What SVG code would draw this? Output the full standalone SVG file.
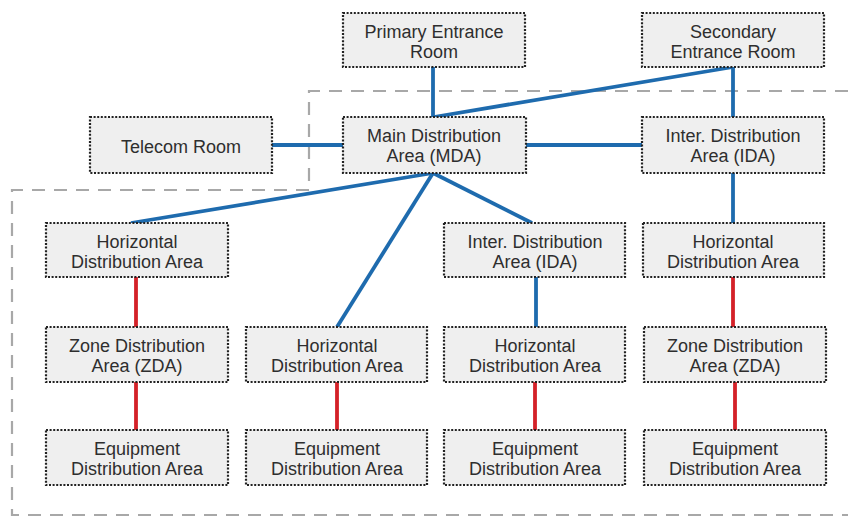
<svg xmlns="http://www.w3.org/2000/svg" width="848" height="518" viewBox="0 0 848 518">
<style>
.box{fill:#efefef;stroke:#222;stroke-width:2.2;stroke-dasharray:2 1.6}
.t{font-family:"Liberation Sans",Arial,sans-serif;font-size:18px;fill:#2e2e2e;text-anchor:middle}
.b{stroke:#1e6bae;stroke-width:3.8;fill:none}
.r{stroke:#d42128;stroke-width:3.8;fill:none}
.d{stroke:#a8a8a8;stroke-width:2.2;fill:none;stroke-dasharray:13 9}
</style>
<rect width="848" height="518" fill="#fff"/>
<g id="boundary">
<path class="d" d="M848 91 H309 V190 H12 V515 H848"/>
</g>
<g id="connectors">
<line class="b" x1="433" y1="67" x2="433" y2="117"/>
<line class="b" x1="733" y1="67" x2="434" y2="117"/>
<line class="b" x1="733" y1="67" x2="733" y2="117"/>
<line class="b" x1="272" y1="145" x2="343" y2="145"/>
<line class="b" x1="526" y1="145" x2="642" y2="145"/>
<line class="b" x1="433" y1="173" x2="131" y2="223"/>
<line class="b" x1="433" y1="173" x2="337" y2="327"/>
<line class="b" x1="433" y1="173" x2="532" y2="223"/>
<line class="b" x1="733" y1="173" x2="733" y2="223"/>
<line class="b" x1="536" y1="277" x2="536" y2="327"/>
<line class="r" x1="136" y1="277" x2="136" y2="327"/>
<line class="r" x1="136" y1="382" x2="136" y2="430"/>
<line class="r" x1="337" y1="382" x2="337" y2="430"/>
<line class="r" x1="535" y1="382" x2="535" y2="430"/>
<line class="r" x1="733" y1="277" x2="733" y2="327"/>
<line class="r" x1="735" y1="382" x2="735" y2="430"/>
</g>
<g id="primary"><rect class="box" x="343" y="13" width="182" height="54"/><text class="t" x="434" y="38">Primary Entrance</text><text class="t" x="434" y="58">Room</text></g>
<g id="secondary"><rect class="box" x="642" y="13" width="182" height="54"/><text class="t" x="733" y="38">Secondary</text><text class="t" x="733" y="58">Entrance Room</text></g>
<g id="telecom"><rect class="box" x="90" y="117" width="182" height="56"/><text class="t" x="181" y="153">Telecom Room</text></g>
<g id="mda"><rect class="box" x="343" y="117" width="183" height="56"/><text class="t" x="434" y="142">Main Distribution</text><text class="t" x="434" y="162">Area (MDA)</text></g>
<g id="ida1"><rect class="box" x="642" y="117" width="182" height="56"/><text class="t" x="733" y="142">Inter. Distribution</text><text class="t" x="733" y="162">Area (IDA)</text></g>
<g id="hda1"><rect class="box" x="46" y="223" width="182" height="54"/><text class="t" x="137" y="248">Horizontal</text><text class="t" x="137" y="268">Distribution Area</text></g>
<g id="ida2"><rect class="box" x="444" y="223" width="181" height="54"/><text class="t" x="535" y="248">Inter. Distribution</text><text class="t" x="535" y="268">Area (IDA)</text></g>
<g id="hda4"><rect class="box" x="643" y="223" width="181" height="54"/><text class="t" x="733" y="248">Horizontal</text><text class="t" x="733" y="268">Distribution Area</text></g>
<g id="zda1"><rect class="box" x="46" y="327" width="182" height="55"/><text class="t" x="137" y="352">Zone Distribution</text><text class="t" x="137" y="372">Area (ZDA)</text></g>
<g id="hda2"><rect class="box" x="246" y="327" width="181" height="55"/><text class="t" x="337" y="352">Horizontal</text><text class="t" x="337" y="372">Distribution Area</text></g>
<g id="hda3"><rect class="box" x="444" y="327" width="181" height="55"/><text class="t" x="535" y="352">Horizontal</text><text class="t" x="535" y="372">Distribution Area</text></g>
<g id="zda4"><rect class="box" x="644" y="327" width="182" height="55"/><text class="t" x="735" y="352">Zone Distribution</text><text class="t" x="735" y="372">Area (ZDA)</text></g>
<g id="eda1"><rect class="box" x="46" y="430" width="182" height="55"/><text class="t" x="137" y="455">Equipment</text><text class="t" x="137" y="475">Distribution Area</text></g>
<g id="eda2"><rect class="box" x="246" y="430" width="181" height="55"/><text class="t" x="337" y="455">Equipment</text><text class="t" x="337" y="475">Distribution Area</text></g>
<g id="eda3"><rect class="box" x="444" y="430" width="181" height="55"/><text class="t" x="535" y="455">Equipment</text><text class="t" x="535" y="475">Distribution Area</text></g>
<g id="eda4"><rect class="box" x="644" y="430" width="182" height="55"/><text class="t" x="735" y="455">Equipment</text><text class="t" x="735" y="475">Distribution Area</text></g>
</svg>
